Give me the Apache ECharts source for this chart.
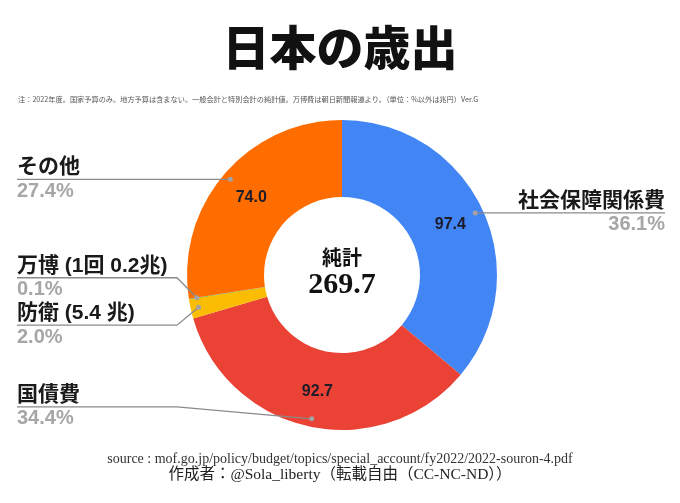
<!DOCTYPE html>
<html><head><meta charset="utf-8">
<script src="https://cdn.jsdelivr.net/npm/echarts@6/dist/echarts.min.js"></script>
<style>html,body{margin:0;padding:0;background:#fff}#c{width:680px;height:503px}</style>
</head><body><div id="c"></div>
<script>
// ---- data ----
const categories = ['社会保障関係費', '国債費', '防衛 (5.4 兆)', '万博 (1回 0.2兆)', 'その他'];
const values = [97.4, 92.7, 5.4, 0.2, 74.0];
const colors = ['#4285F4', '#EA4335', '#FBBC04', '#34A853', '#FF6D01'];
const titleText = '日本の歳出';
const noteText = '注：2022年度。国家予算のみ。地方予算は含まない。一般会計と特別会計の純計値。万博費は朝日新聞報道より。（単位：%以外は兆円）Ver.G';
const centerLabel = '純計';
const sourceText = 'source : mof.go.jp/policy/budget/topics/special_account/fy2022/2022-souron-4.pdf';
const authorText = '作成者：@Sola_liberty（転載自由（CC-NC-ND））';

// ---- layout (not data) ----
const CX = 342, CY = 275, R_OUT = 155, R_IN = 78, R_ANCHOR = 147;
const labelDy = [0, -12, 18, -20, 0];
const SANS = '"Liberation Sans", Arial, "Noto Sans CJK JP", sans-serif';
const SERIF = '"Liberation Serif", "Times New Roman", "Noto Sans CJK JP", serif';

const total = values.reduce((a, b) => a + b, 0);
const pieData = categories.map((n, i) => ({ name: n, value: values[i], itemStyle: { color: colors[i] } }));
const plainData = () => categories.map((n, i) => ({ name: n, value: values[i] }));

const chart = echarts.init(document.getElementById('c'));
const W = 680;
chart.setOption({
  animation: false,
  backgroundColor: '#fff',
  title: [
    { text: titleText, left: 'center', top: 24, padding: 0, textStyle: { fontFamily: '"Noto Sans CJK JP", sans-serif', fontWeight: 900, fontSize: 47, color: '#111' } },
    { text: noteText, left: 18, top: 96, padding: 0, textStyle: { fontFamily: '"Noto Sans CJK JP", sans-serif', fontWeight: 'normal', fontSize: 7.2, color: '#555' } },
    { text: '{a|' + centerLabel + '}\n{b|' + total.toFixed(1) + '}', left: CX, top: CY - 31, padding: 0, textAlign: 'center',
      textStyle: { rich: {
        a: { fontFamily: '"Noto Sans CJK JP", sans-serif', fontWeight: 'bold', fontSize: 20, color: '#111', lineHeight: 26, align: 'center' },
        b: { fontFamily: SERIF, fontWeight: 'bold', fontSize: 30, color: '#111', lineHeight: 30, align: 'center' } } } },
    { text: sourceText, left: 'center', top: 452, padding: 0, textStyle: { fontFamily: SERIF, fontWeight: 'normal', fontSize: 14, color: '#333' } },
    { text: authorText, left: 'center', top: 467, padding: 0, textStyle: { fontFamily: SERIF, fontWeight: 'normal', fontSize: 15.5, color: '#222' } }
  ],
  series: [
    {
      type: 'pie', center: [CX, CY], radius: [R_IN, R_OUT], startAngle: 90, clockwise: true,
      silent: true, data: pieData,
      label: { show: true, position: 'inside', fontFamily: SANS, fontWeight: 'bold', fontSize: 16, color: '#1c1c2a',
        formatter: p => p.percent < 5 ? '' : p.value.toFixed(1) },
      labelLine: { show: false },
      itemStyle: { borderWidth: 0 }
    },
    {
      type: 'pie', center: [CX, CY], radius: [0, R_ANCHOR], startAngle: 90, clockwise: true,
      silent: true, z: 5,
      data: plainData(),
      itemStyle: { color: 'rgba(0,0,0,0)' },
      label: { show: true, position: 'outside',
        formatter: p => '{n|' + p.name + '}\n{p|' + p.percent.toFixed(1) + '%}',
        rich: {
          n: { fontFamily: SANS, fontWeight: 'bold', fontSize: 21, color: '#1a1a1a', lineHeight: 24 },
          p: { fontFamily: SANS, fontWeight: 'bold', fontSize: 20, color: '#a6a6a6', lineHeight: 24 }
        } },
      labelLine: { show: true, length: 10, length2: 10, lineStyle: { color: '#8a8a8a', width: 1.3 } },
      labelLayout: function (p) {
        const pts = p.labelLinePoints;
        if (!pts) return {};
        const ax = pts[0][0], ay = pts[0][1];
        const left = ax < CX;
        const y = ay + labelDy[p.dataIndex];
        const edgeX = left ? 17 : W - 15;
        const bendX = left ? Math.min(ax, CX - R_OUT - 10) : Math.max(ax, CX + R_OUT + 10);
        return { x: edgeX, y: y, align: left ? 'left' : 'right', verticalAlign: 'middle',
          labelLinePoints: [[ax, ay], [bendX, y], [edgeX, y]] };
      }
    },
    {
      // small anchor dots at the start of each leader line
      type: 'pie', center: [CX, CY], radius: [0, R_ANCHOR], startAngle: 90, clockwise: true,
      silent: true, z: 6,
      data: plainData(),
      itemStyle: { color: 'rgba(0,0,0,0)' },
      label: { show: true, position: 'outside', formatter: '', width: 5, height: 5, borderRadius: 3,
        backgroundColor: '#a3a3a3', padding: 0 },
      labelLine: { show: true, length: 5, length2: 5, lineStyle: { color: 'rgba(0,0,0,0)', width: 0 } },
      labelLayout: function (p) {
        const pts = p.labelLinePoints;
        if (!pts) return {};
        return { x: pts[0][0], y: pts[0][1], align: 'center', verticalAlign: 'middle' };
      }
    }
  ]
});
</script></body></html>
